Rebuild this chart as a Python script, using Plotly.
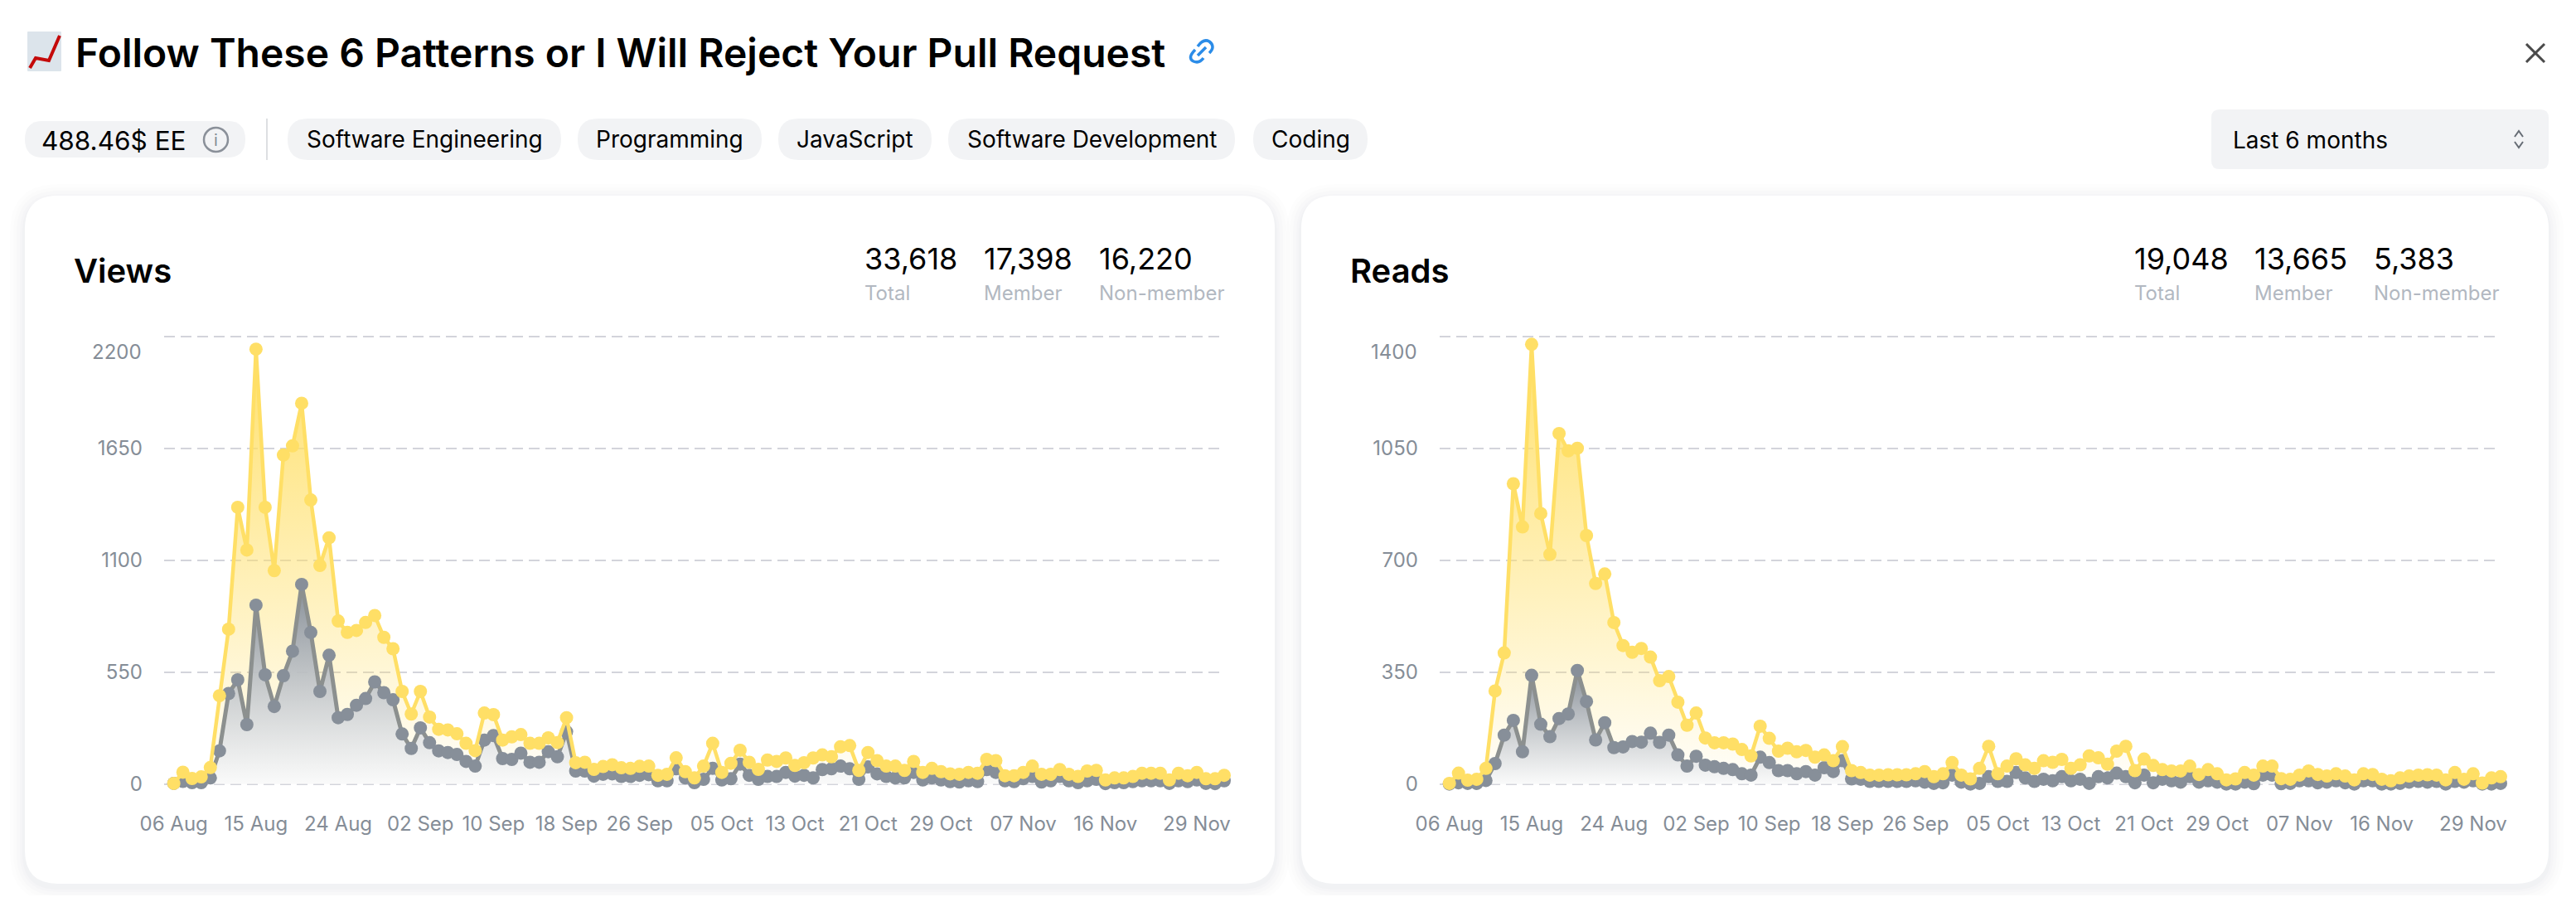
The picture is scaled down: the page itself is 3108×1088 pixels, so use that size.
import plotly.graph_objects as go

W, H = 3108, 1088
# the page keeps its default 8px body margin, so the figure is smaller and everything is moved by that
PAD = 8
FIG_W, FIG_H = W - 2 * PAD, H - 2 * PAD

# views per day, index 0 = 06 Aug
views_total = [3, 58, 27, 35, 81, 434, 761, 1360, 1150, 2137, 1360, 1049, 1617, 1662, 1871, 1396, 1074, 1210, 801, 745,
               755, 794, 828, 721, 665, 455, 344, 455, 329, 269, 266, 247, 200, 164, 349, 341, 216, 232, 243, 200,
               200, 227, 204, 326, 105, 107, 72, 86, 95, 80, 77, 87, 88, 43, 48, 129, 61, 30, 88, 200,
               57, 102, 166, 107, 72, 118, 111, 128, 91, 105, 128, 143, 134, 183, 189, 67, 155, 115, 88, 88,
               67, 111, 57, 77, 61, 50, 48, 57, 53, 121, 115, 41, 41, 57, 88, 48, 48, 71, 48, 37,
               64, 67, 20, 30, 30, 37, 53, 53, 53, 20, 53, 41, 57, 26, 26, 43]
views_member = [3, 13, 7, 7, 30, 163, 445, 512, 292, 879, 537, 381, 532, 653, 981, 745, 455, 633, 326, 342,
                387, 420, 502, 449, 414, 246, 175, 276, 203, 163, 155, 145, 111, 88, 216, 238, 125, 121, 152, 107,
                107, 159, 134, 257, 64, 64, 39, 48, 50, 37, 37, 43, 46, 16, 16, 75, 30, 7, 23, 77,
                20, 26, 98, 43, 23, 37, 37, 57, 39, 43, 30, 71, 75, 88, 75, 23, 84, 50, 37, 30,
                30, 57, 20, 30, 20, 12, 10, 16, 12, 71, 57, 16, 12, 26, 37, 10, 16, 37, 16, 7,
                16, 23, 2, 7, 7, 12, 16, 16, 16, 3, 16, 12, 20, 3, 2, 16]

# reads per day
reads_total = [2, 34, 12, 15, 49, 291, 410, 939, 804, 1375, 846, 718, 1096, 1042, 1050, 777, 627, 657, 505, 433,
               412, 424, 397, 323, 336, 256, 184, 222, 144, 129, 129, 125, 108, 88, 181, 143, 103, 112, 101, 105,
               84, 91, 73, 117, 42, 36, 28, 28, 29, 29, 29, 32, 39, 23, 32, 67, 28, 16, 49, 118,
               32, 56, 79, 60, 49, 73, 68, 77, 49, 60, 88, 82, 62, 103, 118, 42, 78, 58, 45, 41,
               41, 56, 30, 45, 32, 13, 16, 36, 28, 56, 56, 17, 15, 28, 41, 30, 25, 32, 25, 13,
               32, 30, 15, 10, 19, 25, 28, 29, 28, 13, 36, 15, 32, 3, 19, 23]
reads_member = [0, 4, 2, 2, 11, 64, 153, 199, 101, 340, 187, 148, 205, 219, 355, 258, 138, 192, 114, 116,
                133, 131, 159, 130, 153, 91, 56, 87, 59, 54, 49, 45, 32, 28, 84, 67, 42, 42, 32, 39,
                28, 51, 39, 73, 16, 15, 8, 8, 8, 8, 8, 10, 6, 2, 4, 28, 6, 0, 2, 23,
                8, 8, 36, 19, 8, 15, 10, 23, 10, 15, 2, 23, 19, 34, 23, 4, 28, 4, 15, 10,
                6, 23, 6, 10, 6, 0, 0, 6, 1, 28, 28, 1, 2, 10, 10, 4, 6, 10, 4, 0,
                10, 10, 0, 0, 2, 6, 8, 6, 8, 0, 8, 6, 10, 0, 0, 2]

days = list(range(len(views_total)))

# x labels, picked at the same days on both charts
tick_days = [0, 9, 18, 27, 35, 43, 51, 60, 68, 76, 84, 93, 102, 112]
tick_labels = ["06 Aug", "15 Aug", "24 Aug", "02 Sep", "10 Sep", "18 Sep", "26 Sep",
               "05 Oct", "13 Oct", "21 Oct", "29 Oct", "07 Nov", "16 Nov", "29 Nov"]

views_ticks = [0, 550, 1100, 1650, 2200]
reads_ticks = [0, 350, 700, 1050, 1400]

tags = ["Software Engineering", "Programming", "JavaScript", "Software Development", "Coding"]
tag_boxes = [(347, 677), (697, 919), (939, 1124), (1144, 1490), (1512, 1650)]

YELLOW = "#FFDF66"
GRAY = "#878F99"
TICK = "#858D97"
FONT = "Inter"


def px(x, y):
    return (x - PAD) / FIG_W, 1 - (y - PAD) / FIG_H


def rounded(x0, y0, x1, y1, r):
    # rounded rectangle as svg path in paper coords
    pts = [("M", x0 + r, y0), ("L", x1 - r, y0), ("Q", x1, y0, x1, y0 + r), ("L", x1, y1 - r),
           ("Q", x1, y1, x1 - r, y1), ("L", x0 + r, y1), ("Q", x0, y1, x0, y1 - r), ("L", x0, y0 + r),
           ("Q", x0, y0, x0 + r, y0)]
    return path(pts) + " Z"


def path(pts):
    out = []
    for p in pts:
        coords = []
        for i in range(1, len(p), 2):
            a, b = px(p[i], p[i + 1])
            coords.append(f"{a:.5f},{b:.5f}")
        out.append(p[0] + " ".join(coords))
    return " ".join(out)


shapes = []
annotations = []


def box(x0, y0, x1, y1, r, fill, line=None):
    shapes.append(dict(type="path", xref="paper", yref="paper", layer="below", path=rounded(x0, y0, x1, y1, r),
                       fillcolor=fill, line=dict(width=0) if line is None else line))


def stroke(pts, color, width, layer="above"):
    shapes.append(dict(type="path", xref="paper", yref="paper", layer=layer, path=path(pts),
                       line=dict(color=color, width=width)))


def label(text, x, y, size, color="#000000", weight=400, anchor="left"):
    a, b = px(x, y)
    annotations.append(dict(text=text, x=a, y=b, xref="paper", yref="paper", xanchor=anchor, yanchor="middle",
                            showarrow=False, font=dict(family=FONT, size=size, color=color, weight=weight)))


def card(x0, x1):
    # soft shadow first, then the white card
    for grow, alpha in [(18, 0.006), (14, 0.008), (10, 0.010), (6, 0.012), (3, 0.016)]:
        box(x0 - grow, 236 - grow + 4, x1 + grow, 1066 + grow + 4, 40 + grow, f"rgba(30,40,60,{alpha})")
    box(x0, 236, x1, 1066, 40, "#FFFFFF")


# header
box(33, 38, 74, 86, 1, "#DCE4EB")
stroke([("M", 36, 82), ("L", 43, 70), ("L", 59, 73), ("L", 72, 43)], "#C40A0A", 4)
label("Follow These 6 Patterns or I Will Reject Your Pull Request", 89, 63, 48, weight=600)
stroke([("M", 1445, 56), ("Q", 1452, 46, 1459, 50), ("Q", 1467, 56, 1459, 64)], "#2B8CE8", 3.5)
stroke([("M", 1442, 60), ("Q", 1432, 70, 1440, 74), ("Q", 1447, 77, 1452, 70)], "#2B8CE8", 3.5)
stroke([("M", 1445, 67), ("L", 1455, 57)], "#2B8CE8", 3.5)
stroke([("M", 3048, 53), ("L", 3070, 75)], "#4A4A4A", 3)
stroke([("M", 3070, 53), ("L", 3048, 75)], "#4A4A4A", 3)

box(30, 146, 296, 190, 22, "#F2F3F5")
label("488.46$ EE", 48, 169, 31.5)
cx0, cy0 = px(246, 183)
cx1, cy1 = px(275, 154)
shapes.append(dict(type="circle", xref="paper", yref="paper", x0=cx0, x1=cx1, y0=cy0, y1=cy1,
                   line=dict(color="#8A9099", width=2.5)))
label("i", 260.5, 169, 20, TICK, anchor="center")
stroke([("M", 322, 143), ("L", 322, 193)], "#DDDFE2", 2)
for tag, (x0, x1) in zip(tags, tag_boxes):
    box(x0, 143, x1, 193, 25, "#F2F3F5")
    label(tag, (x0 + x1) / 2, 168, 28, anchor="center")

box(2668, 132, 3075, 204, 10, "#F2F3F5")
label("Last 6 months", 2692, 169, 28)
stroke([("M", 3034, 165), ("L", 3039, 158), ("L", 3044, 165)], "#666C74", 2)
stroke([("M", 3034, 171), ("L", 3039, 178), ("L", 3044, 171)], "#666C74", 2)

# cards + their texts
card(30, 1538)
card(1570, 3075)

label("Views", 87, 327, 40, weight=600)
label("Reads", 1627, 327, 40, weight=600)
for x, num, name in [(1041, "33,618", "Total"), (1185, "17,398", "Member"), (1324, "16,220", "Non-member"),
                     (2573, "19,048", "Total"), (2718, "13,665", "Member"), (2862, "5,383", "Non-member")]:
    label(num, x, 312, 36)
    label(name, x, 354, 24, "#B2B8C1")

fig = go.Figure()


def add_chart(total, member, xa, ya):
    # fills go first so lines and dots stay on top of both
    fig.add_trace(go.Scatter(x=days, y=total, mode="none", fill="tozeroy", xaxis=xa, yaxis=ya,
                             fillgradient=dict(type="vertical", start=0, stop=max(total),
                                               colorscale=[[0, "rgba(255,223,102,0.03)"], [1, "rgba(255,223,102,0.95)"]])))
    fig.add_trace(go.Scatter(x=days, y=member, mode="none", fill="tozeroy", xaxis=xa, yaxis=ya,
                             fillgradient=dict(type="vertical", start=0, stop=max(member),
                                               colorscale=[[0, "rgba(248,249,250,0.8)"], [1, "rgba(135,143,153,1)"]])))
    fig.add_trace(go.Scatter(x=days, y=member, mode="lines+markers", xaxis=xa, yaxis=ya, cliponaxis=False,
                             line=dict(color="#8C908F", width=5), marker=dict(color=GRAY, size=16)))
    fig.add_trace(go.Scatter(x=days, y=total, mode="lines+markers", xaxis=xa, yaxis=ya, cliponaxis=False,
                             line=dict(color=YELLOW, width=4.5), marker=dict(color=YELLOW, size=16)))


add_chart(views_total, views_member, "x", "y")
add_chart(reads_total, reads_member, "x2", "y2")


def xaxis(x0, x1, anchor):
    return dict(domain=[px(x0, 0)[0], px(x1, 0)[0]], range=[-1.06, 115], anchor=anchor, tickmode="array",
                tickvals=tick_days, ticktext=tick_labels, showgrid=False, zeroline=False, showline=False, ticks="",
                tickangle=0, ticklabelstandoff=28, tickfont=dict(family=FONT, size=24, color=TICK))


def yaxis(ticks, anchor):
    # 3px of slack at both ends, plotly drops grid lines sitting right on the plot edge.
    # the top label sits lower than its grid line, so it is added on its own below
    slack = 3 * ticks[-1] / 540
    return dict(domain=[px(0, 948.7)[1], px(0, 402.7)[1]], range=[-slack, ticks[-1] + slack], anchor=anchor,
                tickmode="array", tickvals=ticks, ticktext=[str(t) for t in ticks[:-1]] + [""], showgrid=True,
                gridcolor="#D3D4DB", gridwidth=2, griddash="13px,7px", zeroline=False, showline=False, ticks="",
                ticklabelstandoff=25, tickfont=dict(family=FONT, size=24, color=TICK))


label(str(views_ticks[-1]), 173, 424, 24, TICK, anchor="right")
label(str(reads_ticks[-1]), 1712, 424, 24, TICK, anchor="right")

fig.update_layout(
    width=FIG_W, height=FIG_H, margin=dict(l=0, r=0, t=0, b=0, autoexpand=False), showlegend=False,
    paper_bgcolor="#FFFFFF", plot_bgcolor="rgba(0,0,0,0)",
    xaxis=xaxis(198, 1477, "y"), yaxis=yaxis(views_ticks, "x"),
    xaxis2=xaxis(1737, 3017, "y2"), yaxis2=yaxis(reads_ticks, "x2"),
    shapes=shapes, annotations=annotations,
)

fig.write_html("out.html")
